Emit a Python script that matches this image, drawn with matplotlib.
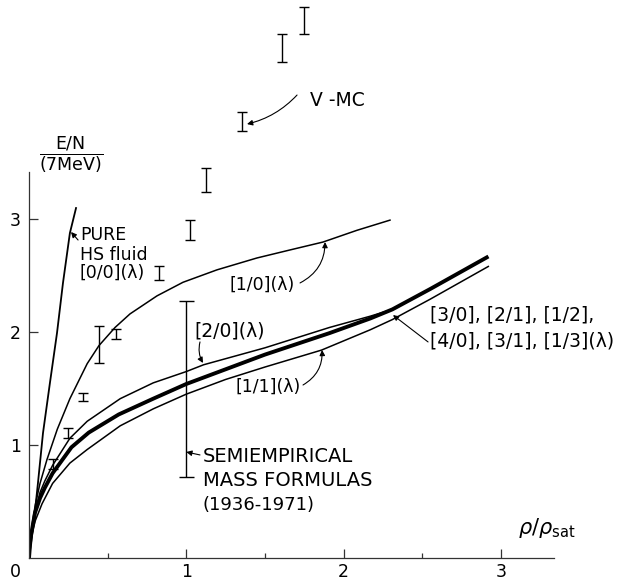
import numpy as np
import matplotlib
matplotlib.use('Agg')
import matplotlib.pyplot as plt

# curves (x = rho/rho_sat, y = E/N in units of 7 MeV)
hs_x = [0, 0.032, 0.057, 0.089, 0.133, 0.178, 0.216, 0.26, 0.299]
hs_y = [0, 0.336, 0.664, 1.106, 1.549, 1.991, 2.434, 2.876, 3.097]

p10_x = [0, 0.006, 0.02, 0.04, 0.07, 0.114, 0.18, 0.26, 0.37, 0.445, 0.547, 0.642,
         0.814, 0.979, 1.195, 1.449, 1.659, 1.869, 2.085, 2.295]
p10_y = [0, 0.12, 0.30, 0.47, 0.66, 0.87, 1.14, 1.41, 1.72, 1.88, 2.04, 2.16,
         2.32, 2.44, 2.55, 2.655, 2.726, 2.796, 2.90, 2.99]

p20_x = [0, 0.006, 0.02, 0.04, 0.07, 0.1, 0.15, 0.26, 0.37, 0.58, 0.79, 1.0, 1.11, 1.5,
         1.91, 2.17, 2.31]
p20_y = [0, 0.12, 0.28, 0.42, 0.58, 0.68, 0.82, 1.06, 1.21, 1.41, 1.55, 1.65, 1.71, 1.86,
         2.04, 2.14, 2.20]

thick_x = [0, 0.006, 0.013, 0.038, 0.07, 0.1, 0.15, 0.27, 0.38, 0.57, 0.79, 1.0, 1.5,
           1.91, 2.17, 2.31, 2.55, 2.91]
thick_y = [0, 0.11, 0.20, 0.40, 0.53, 0.62, 0.75, 0.98, 1.11, 1.27, 1.41, 1.54, 1.80,
           1.99, 2.12, 2.20, 2.38, 2.66]

p11_x = [0, 0.006, 0.02, 0.04, 0.083, 0.15, 0.26, 0.37, 0.58, 0.79, 1.0, 1.25, 1.5,
         1.86, 2.17, 2.31, 2.55, 2.92]
p11_y = [0, 0.10, 0.22, 0.33, 0.48, 0.66, 0.84, 0.96, 1.17, 1.32, 1.45, 1.58, 1.69,
         1.84, 2.02, 2.11, 2.29, 2.58]

# V-MC error bars: position, lower and upper ends
vmc_x = [0.15, 0.248, 0.343, 0.445, 0.553, 0.826, 1.024, 1.125, 1.354, 1.608, 1.748]
vmc_lo = [0.79, 1.06, 1.39, 1.73, 1.94, 2.46, 2.81, 3.24, 3.78, 4.39, 4.64]
vmc_hi = [0.88, 1.15, 1.46, 2.05, 2.03, 2.58, 2.99, 3.45, 3.95, 4.64, 4.88]

# semiempirical mass formulas spread
semi_x = [1.0]
semi_lo = [0.72]
semi_hi = [2.27]

xticks = [1, 2, 3]
xminor = [0.5, 1.5, 2.5]
yticks = [1, 2, 3]

plt.rcParams['font.family'] = ['DejaVu Sans']
fs = 12.5

fig = plt.figure(figsize=(6.27, 5.81), dpi=100)
ax = fig.add_axes([29 / 627, 23 / 581, 598 / 627, 558 / 581])
ax.set_xlim(0, 598 / 157.3)
ax.set_ylim(0, 558 / 113)

ax.plot(hs_x, hs_y, color='black', lw=1.3)
ax.plot(p10_x, p10_y, color='black', lw=1.1)
ax.plot(p20_x, p20_y, color='black', lw=1.1)
ax.plot(thick_x, thick_y, color='black', lw=2.8)
ax.plot(p11_x, p11_y, color='black', lw=1.1)

vmc_c = (np.array(vmc_lo) + np.array(vmc_hi)) / 2
vmc_e = (np.array(vmc_hi) - np.array(vmc_lo)) / 2
ax.errorbar(vmc_x, vmc_c, yerr=vmc_e, fmt='none', ecolor='black', elinewidth=1.0,
            capsize=3.6, capthick=1.0, clip_on=False)

semi_c = (np.array(semi_lo) + np.array(semi_hi)) / 2
semi_e = (np.array(semi_hi) - np.array(semi_lo)) / 2
ax.errorbar(semi_x, semi_c, yerr=semi_e, fmt='none', ecolor='black', elinewidth=1.0,
            capsize=5.4, capthick=1.0)

# axes
for s in ['top', 'right']:
    ax.spines[s].set_visible(False)
ax.spines['left'].set_bounds(0, 3.42)
ax.spines['bottom'].set_bounds(0, 3.34)
for s in ['left', 'bottom']:
    ax.spines[s].set_linewidth(0.9)
    ax.spines[s].set_color('#333333')
ax.set_xticks(xticks)
ax.set_xticks(xminor, minor=True)
ax.set_yticks(yticks)
ax.tick_params(axis='both', which='major', direction='in', length=6.5, width=0.9,
               labelsize=fs, color='#333333')
ax.tick_params(axis='x', which='major', pad=3.5)
ax.tick_params(axis='y', which='major', pad=6)
ax.tick_params(axis='x', which='minor', direction='in', length=3.6, width=0.9, color='#333333')
ax.text(-0.089, -0.124, '0', ha='center', va='center', fontsize=fs, clip_on=False)

ax.text(0.27, 3.57, r'$\dfrac{\mathrm{E/N}}{\mathrm{(7MeV)}}$', ha='center', va='center',
        fontsize=fs)
ax.text(3.109, 0.265, r'$\rho/\rho_{\mathrm{sat}}$', ha='left', va='center', fontsize=fs + 2.5)

arw = dict(arrowstyle='-|>', color='black', lw=0.8, mutation_scale=8, shrinkA=0, shrinkB=0)

ax.text(1.786, 4.053, 'V -MC', ha='left', va='center', fontsize=13.5)
ax.annotate('', xy=(1.386, 3.84), xytext=(1.704, 4.097),
            arrowprops=dict(arw, connectionstyle='arc3,rad=-0.15'))

ax.text(0.324, 2.858, 'PURE', ha='left', va='center', fontsize=fs)
ax.text(0.324, 2.681, 'HS fluid', ha='left', va='center', fontsize=fs)
ax.text(0.324, 2.522, '[0/0](λ)', ha='left', va='center', fontsize=fs)
ax.annotate('', xy=(0.267, 2.885), xytext=(0.312, 2.814), arrowprops=arw)

ax.text(1.481, 2.416, '[1/0](λ)', ha='center', va='center', fontsize=fs)
ax.annotate('', xy=(1.882, 2.796), xytext=(1.723, 2.434),
            arrowprops=dict(arw, connectionstyle='arc3,rad=0.3'))

ax.text(1.278, 2.009, '[2/0](λ)', ha='center', va='center', fontsize=13.5)
ax.annotate('', xy=(1.106, 1.726), xytext=(1.087, 1.912),
            arrowprops=dict(arw, connectionstyle='arc3,rad=0.2'))

ax.text(1.519, 1.513, '[1/1](λ)', ha='center', va='center', fontsize=fs)
ax.annotate('', xy=(1.863, 1.841), xytext=(1.742, 1.531),
            arrowprops=dict(arw, connectionstyle='arc3,rad=0.3'))

ax.text(2.549, 2.150, '[3/0], [2/1], [1/2],', ha='left', va='center', fontsize=13.5)
ax.text(2.549, 1.920, '[4/0], [3/1], [1/3](λ)', ha='left', va='center', fontsize=13.5)
ax.annotate('', xy=(2.314, 2.150), xytext=(2.537, 1.912), arrowprops=arw)

ax.text(1.106, 0.894, 'SEMIEMPIRICAL', ha='left', va='center', fontsize=14)
ax.text(1.106, 0.690, 'MASS FORMULAS', ha='left', va='center', fontsize=14)
ax.text(1.106, 0.469, '(1936-1971)', ha='left', va='center', fontsize=13)
ax.annotate('', xy=(1.0, 0.938), xytext=(1.087, 0.912), arrowprops=arw)

fig.savefig('out.png', dpi=100)
